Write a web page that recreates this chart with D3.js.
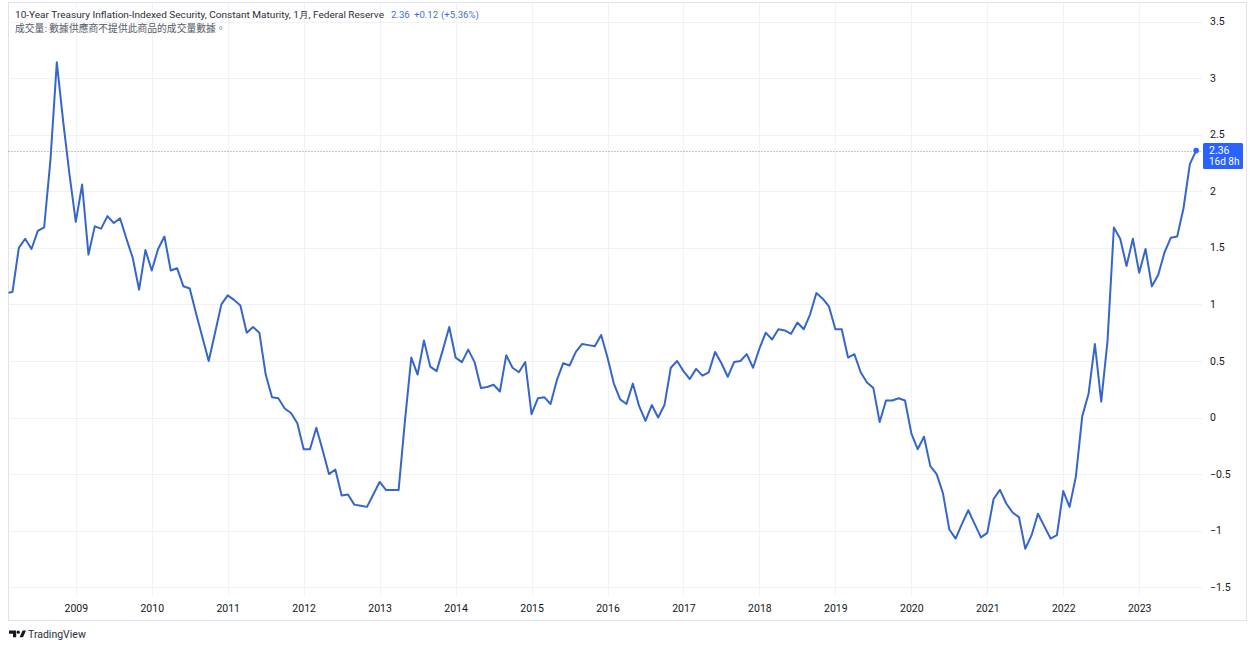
<!DOCTYPE html>
<html>
<head>
<meta charset="utf-8">
<script src="https://cdn.jsdelivr.net/npm/d3@7"></script>
<style>
  html, body { margin: 0; padding: 0; background: #ffffff; }
  svg { display: block; font-family: Roboto, "Noto Sans", sans-serif; }
</style>
</head>
<body>
<svg id="chart" width="1255" height="649"></svg>
<script>
// monthly closes, first value is Feb 2008
const startYear = 2008, startMonth = 1; // 0-based month
const yields = [
  1.10, 1.11, 1.50, 1.58, 1.49, 1.65, 1.68, 2.28, 3.14, 2.62, 2.15,          // 2008 Feb-Dec
  1.73, 2.06, 1.44, 1.69, 1.67, 1.78, 1.72, 1.76, 1.58, 1.41, 1.13, 1.48,    // 2009
  1.30, 1.49, 1.60, 1.30, 1.32, 1.16, 1.14, 0.92, 0.71, 0.50, 0.75, 1.00,    // 2010
  1.08, 1.04, 0.99, 0.75, 0.80, 0.75, 0.38, 0.18, 0.17, 0.08, 0.04, -0.05,   // 2011
  -0.28, -0.28, -0.09, -0.29, -0.50, -0.46, -0.69, -0.68, -0.77, -0.78, -0.79, -0.68, // 2012
  -0.57, -0.64, -0.64, -0.64, -0.03, 0.53, 0.38, 0.68, 0.45, 0.41, 0.60, 0.80, // 2013
  0.53, 0.49, 0.60, 0.49, 0.26, 0.27, 0.29, 0.23, 0.55, 0.44, 0.40, 0.49,    // 2014
  0.03, 0.17, 0.18, 0.12, 0.33, 0.48, 0.46, 0.58, 0.65, 0.64, 0.63, 0.73,    // 2015
  0.53, 0.30, 0.16, 0.12, 0.30, 0.10, -0.03, 0.11, 0.00, 0.11, 0.44, 0.50,   // 2016
  0.41, 0.34, 0.43, 0.37, 0.40, 0.58, 0.48, 0.36, 0.49, 0.50, 0.56, 0.44,    // 2017
  0.61, 0.75, 0.69, 0.78, 0.77, 0.74, 0.84, 0.78, 0.91, 1.10, 1.05, 0.98,    // 2018
  0.78, 0.78, 0.53, 0.56, 0.40, 0.31, 0.26, -0.04, 0.15, 0.15, 0.17, 0.15,   // 2019
  -0.14, -0.28, -0.17, -0.43, -0.50, -0.67, -0.99, -1.07, -0.94, -0.82, -0.94, -1.06, // 2020
  -1.02, -0.72, -0.64, -0.76, -0.84, -0.88, -1.16, -1.04, -0.85, -0.96, -1.07, -1.04, // 2021
  -0.65, -0.79, -0.52, 0.01, 0.21, 0.65, 0.14, 0.68, 1.68, 1.58, 1.34, 1.58, // 2022
  1.28, 1.49, 1.16, 1.26, 1.46, 1.59, 1.60, 1.85, 2.24, 2.36                 // 2023 Jan-Oct
];
const yearTicks = [2009, 2010, 2011, 2012, 2013, 2014, 2015, 2016, 2017, 2018, 2019, 2020, 2021, 2022, 2023];
const priceTicks = [3.5, 3, 2.5, 2, 1.5, 1, 0.5, 0, -0.5, -1, -1.5];

const title = '10-Year Treasury Inflation-Indexed Security, Constant Maturity, 1月, Federal Reserve';
const volumeNote = '成交量: 數據供應商不提供此商品的成交量數據。';
const lastInfo = ['2.36', '+0.12', '(+5.36%)'];
const countdown = '16d 8h';

const svg = d3.select('#chart');
const lineColor = '#3566cc';
const gridColor = '#f0f2f6';
const textColor = '#131722';

const plot = {left: 8.5, right: 1202, top: 2.5, bottom: 596};

// bar index -> x (TradingView spaces bars evenly)
const idxOf = year => (year - startYear) * 12 - startMonth;
const x = d3.scaleLinear().domain([idxOf(2009), idxOf(2023)]).range([75.8, 1139.2]);
const y = d3.scaleLinear().domain([-1.5, 3.5]).range([587.2, 21.6]);

// outer frame
svg.append('rect').attr('x', 8.5).attr('y', 2.5).attr('width', 1238).attr('height', 618)
  .attr('fill', 'none').attr('stroke', '#e0e3eb').attr('stroke-width', 1);

svg.append('defs').append('clipPath').attr('id', 'plotclip')
  .append('rect').attr('x', plot.left).attr('y', plot.top)
  .attr('width', plot.right - plot.left).attr('height', plot.bottom - plot.top);

// grid
svg.append('g').selectAll('line').data(priceTicks).enter().append('line')
  .attr('x1', plot.left).attr('x2', plot.right)
  .attr('y1', d => Math.round(y(d)) + 0.5).attr('y2', d => Math.round(y(d)) + 0.5)
  .attr('stroke', gridColor).attr('stroke-width', 1);
svg.append('g').selectAll('line').data(yearTicks).enter().append('line')
  .attr('x1', d => Math.round(x(idxOf(d))) + 0.5).attr('x2', d => Math.round(x(idxOf(d))) + 0.5)
  .attr('y1', plot.top).attr('y2', plot.bottom)
  .attr('stroke', gridColor).attr('stroke-width', 1);

// price scale labels
svg.append('g').selectAll('text').data(priceTicks).enter().append('text')
  .attr('x', 1210).attr('y', d => y(d) + 3.6)
  .attr('font-size', '10.5px').attr('fill', textColor)
  .text(d => d3.format('.1~f')(d).replace('-', '−'));

// time scale labels
svg.append('g').selectAll('text').data(yearTicks).enter().append('text')
  .attr('x', d => x(idxOf(d)) + 0.5).attr('y', 611.5)
  .attr('text-anchor', 'middle').attr('font-size', '10.5px').attr('fill', textColor)
  .text(d => d);

// last value dotted line
const lastIdx = yields.length - 1;
const lastVal = yields[lastIdx];
svg.append('line')
  .attr('x1', plot.left).attr('x2', plot.right)
  .attr('y1', Math.round(y(lastVal)) + 0.5).attr('y2', Math.round(y(lastVal)) + 0.5)
  .attr('stroke', '#8f929b').attr('stroke-width', 1).attr('stroke-dasharray', '1,2');

// series
const line = d3.line().x((d, i) => x(i)).y(d => y(d));
const g = svg.append('g').attr('clip-path', 'url(#plotclip)');
g.append('path').datum(yields)
  .attr('fill', 'none').attr('stroke', lineColor).attr('stroke-width', 2)
  .attr('stroke-linejoin', 'round').attr('d', line);
g.append('circle').attr('cx', x(lastIdx)).attr('cy', y(lastVal)).attr('r', 2.8).attr('fill', '#2962ff');

// last price badge
const by = y(lastVal);
svg.append('rect').attr('x', 1203).attr('y', by - 7.5).attr('width', 40).attr('height', 26)
  .attr('rx', 1.5).attr('fill', '#2962ff');
svg.append('text').attr('x', 1209).attr('y', by + 3.5).attr('font-size', '10.5px').attr('fill', '#ffffff')
  .text(d3.format('.2f')(lastVal));
svg.append('text').attr('x', 1209).attr('y', by + 14.8).attr('font-size', '10px').attr('fill', '#ffffff')
  .text(countdown);

// legend
svg.append('text').attr('x', 15).attr('y', 18).attr('font-size', '9.4px').attr('fill', '#2a2e39')
  .attr('textLength', 369).attr('lengthAdjust', 'spacingAndGlyphs').text(title);
const infoX = [391, 414, 441];
svg.append('g').selectAll('text').data(lastInfo).enter().append('text')
  .attr('x', (d, i) => infoX[i]).attr('y', 18).attr('font-size', '9.6px').attr('fill', '#3f6fd6')
  .text(d => d);
svg.append('text').attr('x', 15).attr('y', 31.5).attr('font-size', '9.8px').attr('fill', '#555a66')
  .attr('font-family', '"Noto Sans CJK TC", "Noto Sans CJK SC", sans-serif')
  .text(volumeNote);

// TradingView mark
const logo = svg.append('g').attr('fill', '#131722');
logo.append('path').attr('d', 'M9 630.5 h7.2 v6.8 h-3.2 v-3.6 h-4 z');
logo.append('circle').attr('cx', 18.3).attr('cy', 632.2).attr('r', 1.6);
logo.append('path').attr('d', 'M19.6 637.3 L22.6 630.5 H26 L23 637.3 Z');
svg.append('text').attr('x', 28).attr('y', 637.5).attr('font-size', '10.5px').attr('fill', '#2a2e39')
  .text('TradingView');
</script>
</body>
</html>
